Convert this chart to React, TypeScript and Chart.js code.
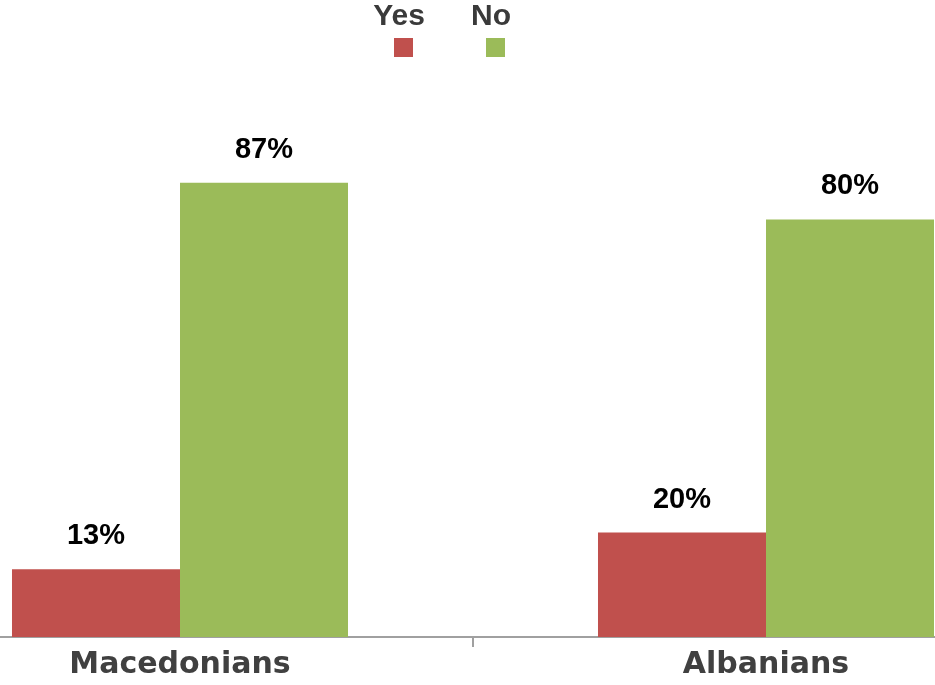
import React, { useEffect, useRef } from "react";
import { Chart, registerables } from "chart.js";

Chart.register(...registerables);

const categories = ["Macedonians", "Albanians"];
const seriesNames = ["Yes", "No"];
const yesValues = [13, 20];
const noValues = [87, 80];
const colors = ["#C0504D", "#9BBB59"];

const CANVAS_W = 1172;
const CANVAS_H = 685;
const SHIFT = 113;

const labelPlugin = {
  id: "valueLabels",
  afterDatasetsDraw(chart: any) {
    const ctx = chart.ctx;
    ctx.save();
    ctx.font = "bold 29px 'Liberation Sans', Arial, sans-serif";
    ctx.fillStyle = "#000000";
    ctx.textAlign = "center";
    ctx.textBaseline = "alphabetic";
    chart.data.datasets.forEach((ds: any, i: number) => {
      const meta = chart.getDatasetMeta(i);
      meta.data.forEach((el: any, j: number) => {
        ctx.fillText(ds.data[j] + "%", el.x, el.y - 25);
      });
    });
    ctx.restore();
  },
};

const legendPlugin = {
  id: "topLegend",
  afterDraw(chart: any) {
    const ctx = chart.ctx;
    const centers = [399 + SHIFT, 491 + SHIFT];
    ctx.save();
    ctx.font = "bold 30px 'Liberation Sans Narrow', 'Liberation Sans', Arial, sans-serif";
    ctx.textAlign = "center";
    ctx.textBaseline = "alphabetic";
    chart.data.datasets.forEach((ds: any, i: number) => {
      ctx.fillStyle = "#3a3a3a";
      ctx.fillText(ds.label, centers[i], 25);
      ctx.fillStyle = ds.backgroundColor;
      ctx.fillRect(centers[i] - 5, 38, 19, 19);
    });
    ctx.restore();
  },
};

export default function App() {
  const ref = useRef<HTMLCanvasElement>(null);
  useEffect(() => {
    if (!ref.current) return;
    const chart = new Chart(ref.current, {
      type: "bar",
      data: {
        labels: categories,
        datasets: [
          { label: seriesNames[0], data: yesValues, backgroundColor: colors[0] },
          { label: seriesNames[1], data: noValues, backgroundColor: colors[1] },
        ],
      },
      options: {
        responsive: false,
        maintainAspectRatio: false,
        animation: false,
        layout: { padding: { top: 115, left: 0, right: 0, bottom: 2 } },
        datasets: {
          bar: { categoryPercentage: 0.5734, barPercentage: 1 },
        },
        plugins: {
          legend: { display: false },
          tooltip: { enabled: false },
        },
        scales: {
          x: {
            grid: {
              display: true,
              drawOnChartArea: false,
              drawTicks: true,
              tickLength: 10,
              color: "#a0a0a0",
              lineWidth: 2,
            },
            border: { display: true, color: "#a0a0a0", width: 2 },
            ticks: {
              padding: 0,
              color: "#404040",
              font: { family: "'DejaVu Sans', sans-serif", size: 30, weight: "bold" },
            },
          },
          y: {
            display: false,
            min: 0,
            max: 100,
          },
        },
      },
      plugins: [labelPlugin, legendPlugin],
    });
    return () => chart.destroy();
  }, []);
  return (
    <div
      style={{
        position: "absolute",
        left: 0,
        top: 0,
        width: 935,
        height: 685,
        overflow: "hidden",
        background: "#ffffff",
      }}
    >
      <canvas
        ref={ref}
        width={CANVAS_W}
        height={CANVAS_H}
        style={{ position: "absolute", left: -SHIFT, top: 0, width: CANVAS_W, height: CANVAS_H }}
      />
    </div>
  );
}
